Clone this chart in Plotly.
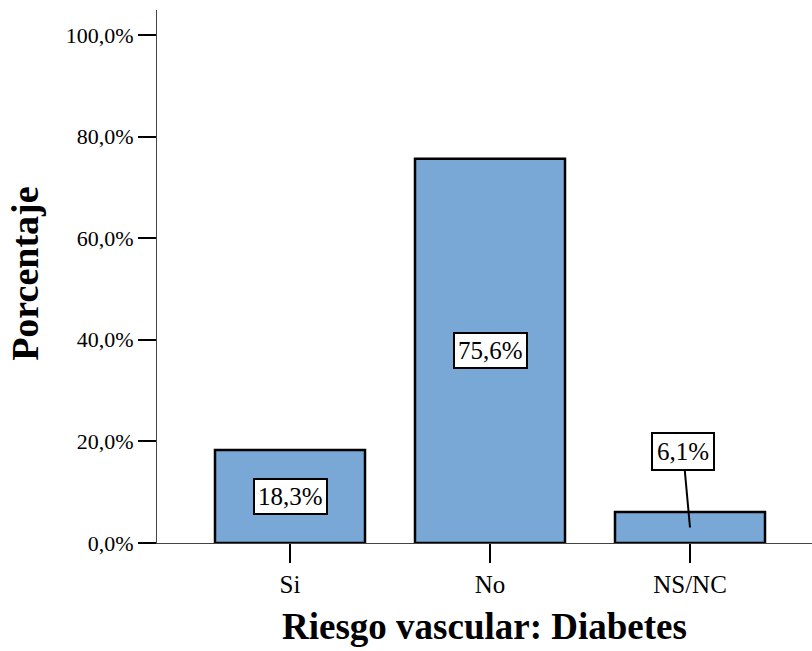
import plotly.graph_objects as go

categories = ["Si", "No", "NS/NC"]
percentages = [18.3, 75.6, 6.1]
y_ticks = [0, 20, 40, 60, 80, 100]
x_title = "Riesgo vascular: Diabetes"
y_title = "Porcentaje"

FONT = "Liberation Serif, Times New Roman, serif"
BAR_COLOR = "#79A8D6"

def fmt(v):
    return f"{v:.1f}".replace(".", ",") + "%"

fig = go.Figure()
fig.add_trace(go.Bar(
    x=categories, y=percentages, width=0.75,
    marker=dict(color=BAR_COLOR, line=dict(color="black", width=2.5)),
    hoverinfo="skip",
))

annotations = []
for i, (c, v) in enumerate(zip(categories, percentages)):
    if v >= 10:
        annotations.append(dict(
            x=c, y=v / 2, xref="x", yref="y", text=fmt(v), showarrow=False,
            font=dict(family=FONT, size=25, color="black"),
            bgcolor="white", bordercolor="black", borderwidth=2, borderpad=3,
        ))
    else:
        annotations.append(dict(
            x=i, y=v / 2, xref="x", yref="y", text=fmt(v), showarrow=True,
            ax=i - 0.035, ay=18.1, axref="x", ayref="y",
            arrowhead=0, arrowwidth=2, arrowcolor="black", standoff=0,
            font=dict(family=FONT, size=25, color="black"),
            bgcolor="white", bordercolor="black", borderwidth=2, borderpad=4,
        ))

annotations.append(dict(
    x=0.5, y=-0.157, xref="paper", yref="paper", text=f"<b>{x_title}</b>",
    showarrow=False, xanchor="center", yanchor="middle",
    font=dict(family=FONT, size=37, color="black"),
))
annotations.append(dict(
    x=-0.2015, y=0.505, xref="paper", yref="paper", text=f"<b>{y_title}</b>",
    showarrow=False, xanchor="center", yanchor="middle", textangle=-90,
    font=dict(family=FONT, size=38, color="black"),
))

fig.update_layout(
    width=812, height=651,
    margin=dict(l=157, r=0, t=10, b=108),
    paper_bgcolor="white", plot_bgcolor="white",
    showlegend=False,
    annotations=annotations,
    font=dict(family=FONT, color="black"),
)
fig.update_xaxes(
    type="category", range=[-0.665, 2.61],
    showline=True, linecolor="#444444", linewidth=1,
    ticks="outside", ticklen=19, tickwidth=2, tickcolor="black",
    tickfont=dict(family=FONT, size=25, color="black"),
    showgrid=False, zeroline=False, fixedrange=True,
)
fig.update_yaxes(
    range=[0, 104.9],
    tickmode="array", tickvals=y_ticks, ticktext=[fmt(t) for t in y_ticks],
    showline=True, linecolor="#444444", linewidth=1,
    ticks="outside", ticklen=18, tickwidth=2, tickcolor="black",
    tickfont=dict(family=FONT, size=22, color="black"),
    showgrid=False, zeroline=False, fixedrange=True,
)

fig.write_html(
    "out.html",
    config={"displayModeBar": False},
    post_script="document.body.style.margin='0';document.body.style.overflow='hidden';",
)
